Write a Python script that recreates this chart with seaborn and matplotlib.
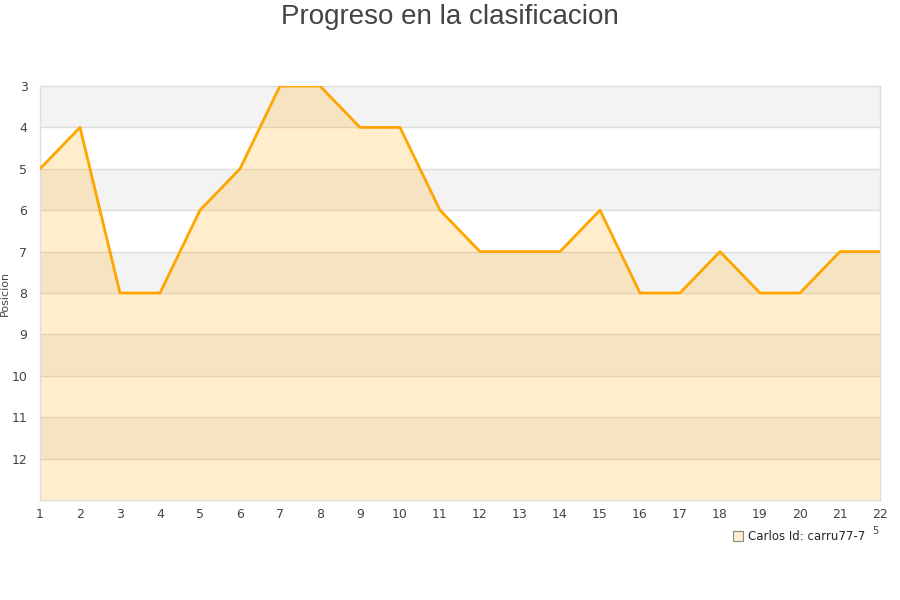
import pandas as pd
import matplotlib.pyplot as plt
import seaborn as sns
from matplotlib.lines import Line2D

# Position per jornada
jornadas = list(range(1, 23))
posicion = [5, 4, 8, 8, 6, 5, 3, 3, 4, 4, 6, 7, 7, 7, 6, 8, 8, 7, 8, 8, 7, 7]
jugador = "Carlos Id: carru77-7"

df = pd.DataFrame({"Jornada": jornadas, "Posicion": posicion})

sns.set_style("white")
plt.rcParams["font.family"] = ["DejaVu Sans"]

fig = plt.figure(figsize=(9, 6), dpi=100)
ax = fig.add_axes([40 / 900, 1 - 500 / 600, 840 / 900, 414 / 600])

# alternating bands
for y0 in range(3, 13, 2):
    ax.axhspan(y0, y0 + 1, color="#f3f3f3", zorder=0, lw=0)
for y in range(4, 13):
    ax.axhline(y, color="#dddddd", lw=1, zorder=1)

ax.fill_between(df["Jornada"], df["Posicion"], 13, color="#ffa500", alpha=0.2, lw=0, zorder=2)
sns.lineplot(data=df, x="Jornada", y="Posicion", ax=ax, color="#ffa500", lw=2, zorder=3)

ax.set_xlim(1, 22)
ax.set_ylim(13, 3)
ax.set_xticks(jornadas)
ax.set_yticks(range(3, 13))
ax.tick_params(axis="both", labelsize=9, colors="#444444", length=0)
ax.tick_params(axis="x", pad=6)
ax.tick_params(axis="y", pad=9)
ax.set_xlabel("")
ax.set_ylabel("Posicion", fontsize=8, color="#444444")
ax.yaxis.set_label_coords(-30 / 840, 0.5)
for s in ax.spines.values():
    s.set_color("#dddddd")
    s.set_linewidth(1)

fig.suptitle("Progreso en la clasificacion", fontsize=20, color="#444444",
             family=["Liberation Sans", "DejaVu Sans"], y=0.993)

handle = Line2D([], [], marker="s", ls="none", markersize=6.5,
                markerfacecolor="#ffedcc", markeredgecolor="#888888", markeredgewidth=0.8)
fig.legend([handle], [jugador], loc="center left", bbox_to_anchor=(726 / 900, 1 - 537 / 600),
           frameon=False, fontsize=8.5, handletextpad=0.35, borderpad=0, handlelength=1)
fig.text(872 / 900, 1 - 531 / 600, "5", fontsize=7, color="#444444", va="center")

fig.savefig("out.png", dpi=100)
